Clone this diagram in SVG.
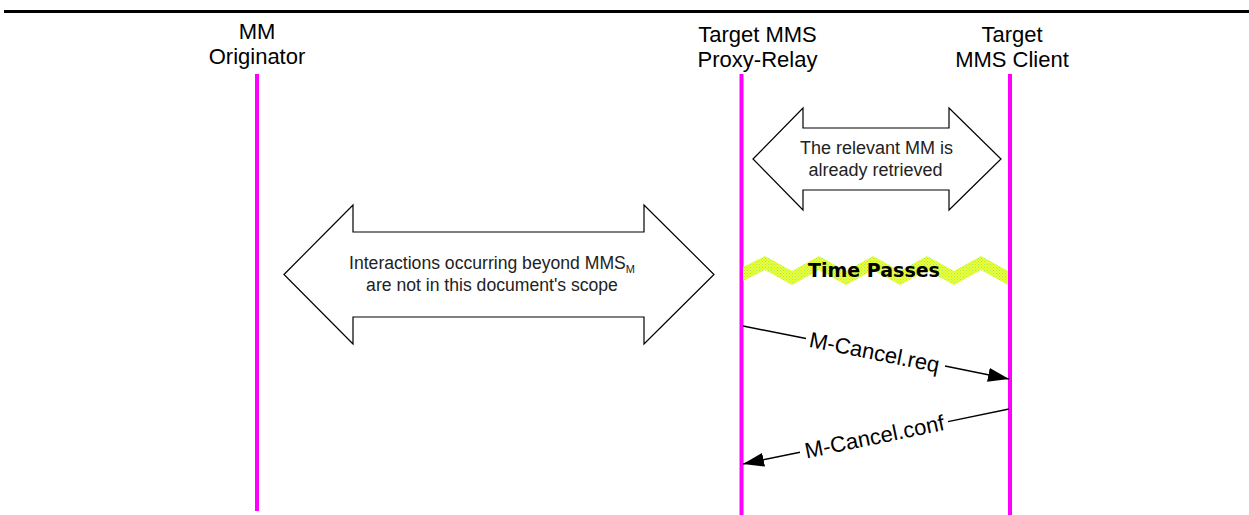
<svg xmlns="http://www.w3.org/2000/svg" width="1249" height="515" viewBox="0 0 1249 515">
<defs>
<style>
.lbl{font-family:"Liberation Sans",Arial,sans-serif;font-size:22px;fill:#000;text-anchor:middle}
.note{font-family:"Liberation Sans",Arial,sans-serif;font-size:18px;fill:#222;text-anchor:middle}
.life{stroke:#ff00ff;stroke-width:4;fill:none}
.blk{fill:#fff;stroke:#000;stroke-width:1.2}
.msg{stroke:#000;stroke-width:1.4;fill:none}
.tp{font-family:"DejaVu Sans",sans-serif;font-weight:bold;font-size:19px;fill:#000;text-anchor:middle}
</style>
<pattern id="chk" width="3" height="3" patternUnits="userSpaceOnUse">
<rect width="3" height="3" fill="#f0ff30"/>
<rect x="0" y="0" width="1" height="1" fill="#9be86a"/>
<rect x="1.5" y="1.5" width="1" height="1" fill="#9be86a"/>
</pattern>
<marker id="ah" markerWidth="21" markerHeight="14" refX="21" refY="7" orient="auto" markerUnits="userSpaceOnUse">
<path d="M0,0 L21,7 L0,14 Z" fill="#000"/>
</marker>
</defs>
<line x1="4" y1="11.5" x2="1249" y2="11.5" stroke="#000" stroke-width="3"/>
<g id="originator">
<text class="lbl" x="257" y="39">MM</text>
<text class="lbl" x="257" y="64">Originator</text>
<line class="life" x1="257" y1="74" x2="257" y2="511"/>
</g>
<g id="proxy-relay">
<text class="lbl" x="757.5" y="42">Target MMS</text>
<text class="lbl" x="757.5" y="67">Proxy-Relay</text>
<line class="life" x1="741.5" y1="74" x2="741.5" y2="515"/>
</g>
<g id="client">
<text class="lbl" x="1012" y="42">Target</text>
<text class="lbl" x="1012" y="67">MMS Client</text>
<line class="life" x1="1010" y1="74" x2="1010" y2="515"/>
</g>
<g id="scope-arrow">
<polygon class="blk" points="284,274.5 353,205 353,232 644,232 644,205 714,274.5 644,344 644,317 353,317 353,344"/>
<text class="note" x="492" y="269" style="font-size:17.6px">Interactions occurring beyond MMS<tspan dy="4" style="font-size:11px">M</tspan></text>
<text class="note" x="492" y="291" style="font-size:17.6px">are not in this document's scope</text>
</g>
<g id="retrieved-arrow">
<polygon class="blk" points="753,159 803,108 803,128 949,128 949,108 1001,159 949,210 949,190 803,190 803,210"/>
<text class="note" x="876.5" y="154">The relevant MM is</text>
<text class="note" x="875.5" y="176">already retrieved</text>
</g>
<g id="time-passes">
<polygon fill="url(#chk)" points="743,267 765,256 792,271 819,256 846,271 873,256 900,271 927,256 954,271 981,256 1008,271 1008,285 981,270 954,285 927,270 900,285 873,270 846,285 819,270 792,285 765,270 743,281"/>
<text class="tp" x="874" y="277">Time Passes</text>
</g>
<g id="connectors">
<line class="msg" x1="743" y1="326" x2="806" y2="338.5"/>
<line class="msg" x1="945" y1="366" x2="1009" y2="379" marker-end="url(#ah)"/>
<text class="lbl" transform="translate(874.5,352.3) rotate(11.27)" x="0" y="7.5">M-Cancel.req</text>
<line class="msg" x1="1009" y1="409" x2="948" y2="421.6"/>
<line class="msg" x1="800" y1="452.2" x2="743" y2="464" marker-end="url(#ah)"/>
<text class="lbl" transform="translate(874.5,436.8) rotate(-11.68)" x="0" y="7.5">M-Cancel.conf</text>
</g>
</svg>
